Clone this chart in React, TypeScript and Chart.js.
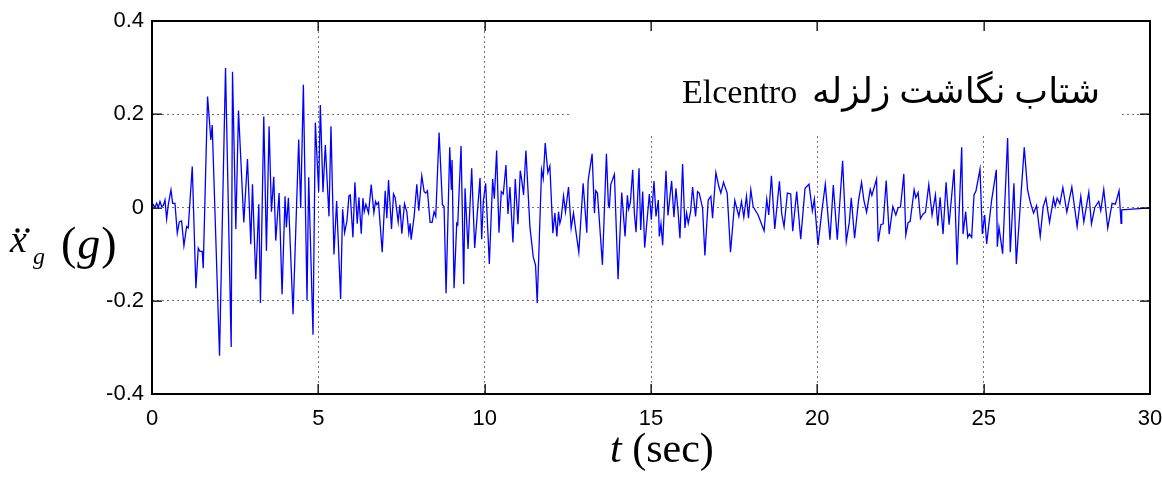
import React, { useEffect, useRef } from 'react';
import { Chart, registerables } from 'chart.js';

Chart.register(...registerables);

// ---- Data (time in s, ground acceleration in g) ----
const accel0to5: [number, number][] = [
  [0, 0], [0.04, 0.006], [0.09, 0], [0.14, 0.009], [0.19, 0], [0.24, 0.013], [0.29, 0.002], [0.34, 0.004],
  [0.39, 0.016], [0.44, -0.025], [0.49, 0.006], [0.57, 0.038], [0.62, 0.009], [0.69, 0.009], [0.76, -0.055],
  [0.82, -0.031], [0.89, -0.029], [0.96, -0.082], [1.04, -0.041], [1.09, -0.044], [1.21, 0.088], [1.32, -0.173],
  [1.39, -0.087], [1.44, -0.094], [1.51, -0.094], [1.54, -0.13], [1.67, 0.238], [1.77, 0.145], [1.81, 0.177],
  [2.03, -0.318], [2.21, 0.299], [2.38, -0.299], [2.42, 0.291], [2.52, -0.046], [2.6, 0.208], [2.76, -0.032],
  [2.87, 0.104], [2.97, -0.079], [3.02, 0.05], [3.12, -0.154], [3.21, 0.007], [3.26, -0.205], [3.36, 0.195],
  [3.44, -0.093], [3.52, 0.174], [3.59, -0.009], [3.66, 0.066], [3.72, -0.071], [3.82, 0.031], [3.91, -0.186],
  [4.0, 0.024], [4.04, -0.043], [4.1, 0.021], [4.24, -0.229], [4.41, 0.146], [4.47, -0.001], [4.55, 0.263],
  [4.66, -0.199], [4.71, 0.065], [4.84, -0.273], [4.91, 0.182], [5.01, 0.034], [5.06, 0.22], [5.14, 0.033],
  [5.21, 0.134],
];

const accel5to10: [number, number][] = [
  [5.32, -0.019], [5.38, 0.174], [5.47, -0.101], [5.55, 0.014], [5.67, -0.196], [5.73, -0.004], [5.79, -0.054],
  [5.86, -0.029], [5.92, 0.025], [5.96, 0.027], [6.04, -0.064], [6.1, 0.054], [6.17, -0.035], [6.22, 0.022],
  [6.29, -0.056], [6.34, 0.02], [6.38, -0.009], [6.43, 0.007], [6.51, -0.012], [6.59, 0.049], [6.67, -0.011],
  [6.72, 0.013], [6.76, 0.006], [6.81, 0.011], [6.92, -0.096], [7.01, 0.036], [7.06, -0.023], [7.11, 0.059],
  [7.2, -0.046], [7.26, 0.029], [7.31, 0.021], [7.4, -0.031], [7.45, 0.006], [7.51, -0.056], [7.59, 0.008],
  [7.66, -0.009], [7.72, -0.055], [7.76, -0.034], [7.79, -0.069], [7.88, -0.019], [7.96, 0.05], [8.02, -0.007],
  [8.11, 0.068], [8.18, 0.034], [8.23, 0.031], [8.28, 0.036], [8.36, -0.032], [8.42, -0.032], [8.48, -0.009],
  [8.53, -0.019], [8.63, 0.161], [8.73, 0.006], [8.78, 0.002], [8.84, -0.184], [8.95, 0.129], [9.0, 0.038],
  [9.02, 0.102], [9.08, -0.173], [9.16, -0.034], [9.19, -0.037], [9.29, 0.132], [9.37, -0.164], [9.41, 0.041],
  [9.5, -0.089], [9.61, 0.084], [9.7, -0.087], [9.86, 0.063], [9.91, -0.068], [9.96, 0.013], [10.03, 0.052],
  [10.14, -0.121],
];

const accel10to15: [number, number][] = [
  [10.24, 0.061], [10.29, 0.019], [10.36, 0.122], [10.43, -0.054], [10.5, 0.034], [10.56, 0.029], [10.64, 0.091],
  [10.7, -0.014], [10.76, 0.044], [10.85, -0.075], [10.92, 0.061], [11.0, -0.036], [11.07, 0.079], [11.12, 0.056],
  [11.17, 0.027], [11.24, 0.122], [11.36, -0.041], [11.46, -0.106], [11.53, -0.124], [11.58, -0.205],
  [11.71, 0.081], [11.76, 0.062], [11.82, 0.138], [11.9, 0.075], [11.96, 0.089], [12.05, -0.055], [12.11, -0.012],
  [12.17, -0.062], [12.22, -0.009], [12.26, -0.034], [12.3, -0.023], [12.37, 0.025], [12.43, -0.009],
  [12.52, 0.044], [12.6, -0.044], [12.67, -0.012], [12.74, -0.05], [12.83, -0.096], [12.96, 0.052],
  [13.07, -0.054], [13.11, 0.057], [13.23, 0.115], [13.3, -0.012], [13.34, 0.036], [13.39, 0.031],
  [13.54, -0.123], [13.66, 0.115], [13.72, 0.004], [13.75, 0.001], [13.79, 0.049], [13.9, 0.071], [14.01, -0.154],
  [14.12, 0.032], [14.22, -0.062], [14.29, 0.026], [14.33, -0.003], [14.38, 0.011], [14.45, 0.081],
  [14.5, -0.012], [14.55, -0.053], [14.64, 0.084],
];

const accel15to20: [number, number][] = [
  [14.69, -0.048], [14.75, 0.034], [14.81, -0.086], [14.95, 0.029], [15.01, -0.026], [15.09, 0.057],
  [15.15, -0.019], [15.22, 0.016], [15.25, -0.062], [15.3, -0.035], [15.35, -0.081], [15.45, 0.079],
  [15.51, -0.017], [15.62, 0.057], [15.69, -0.021], [15.75, 0.041], [15.81, -0.005], [15.87, -0.066],
  [15.95, 0.093], [16.02, -0.044], [16.07, -0.012], [16.12, -0.034], [16.19, -0.009], [16.25, 0.044],
  [16.34, -0.019], [16.4, 0.034], [16.45, 0.031], [16.55, -0.001], [16.62, -0.103], [16.72, 0.016], [16.8, 0.024],
  [16.85, -0.023], [16.95, 0.075], [17.04, 0.045], [17.1, 0.031], [17.18, 0.054], [17.29, 0.031], [17.39, -0.096],
  [17.52, 0.015], [17.64, -0.019], [17.72, 0.013], [17.79, -0.021], [17.87, 0.024], [17.93, -0.023], [18.0, 0.038],
  [18.07, 0.002], [18.22, -0.016], [18.4, -0.05], [18.48, 0.018], [18.54, -0.016], [18.62, 0.068], [18.72, -0.046],
  [18.86, 0.056], [18.93, -0.014], [19.0, -0.041], [19.1, 0.031], [19.2, 0.029], [19.26, -0.051], [19.38, 0.034],
  [19.5, -0.068], [19.63, 0.041], [19.75, 0.05], [19.85, -0.007], [19.91, 0.018],
];

const accel20to25: [number, number][] = [
  [20.02, -0.081], [20.14, -0.005], [20.24, 0.05], [20.38, -0.069], [20.48, 0.048], [20.6, -0.069], [20.76, 0.1],
  [20.87, -0.073], [20.96, -0.032], [21.02, 0.021], [21.12, -0.066], [21.24, 0.016], [21.33, 0.054], [21.4, 0.015],
  [21.48, -0.01], [21.59, 0.039], [21.64, 0.026], [21.78, 0.061], [21.83, -0.073], [21.91, -0.037], [21.98, -0.035],
  [22.07, 0.058], [22.16, -0.057], [22.27, 0.002], [22.36, -0.016], [22.43, 0], [22.5, 0.001], [22.6, 0.072],
  [22.66, -0.059], [22.73, -0.032], [22.79, -0.03], [22.91, 0.038], [22.96, 0.021], [23.03, 0.032], [23.1, -0.024],
  [23.18, -0.014], [23.25, -0.01], [23.35, 0.049], [23.45, -0.016], [23.55, 0.027], [23.62, -0.039], [23.69, 0.022],
  [23.78, -0.057], [23.87, 0.054], [23.96, -0.037], [24.11, 0.082], [24.2, -0.123], [24.34, 0.129], [24.38, -0.057],
  [24.46, -0.009], [24.52, -0.064], [24.57, -0.057], [24.64, -0.064], [24.71, 0.027], [24.77, 0.036],
  [24.89, 0.082], [24.96, -0.057], [25.03, -0.016], [25.09, -0.078],
];

const accel25to30: [number, number][] = [
  [25.24, 0.016], [25.38, 0.081], [25.41, -0.084], [25.46, -0.042], [25.57, -0.099], [25.72, 0.149],
  [25.8, -0.096], [25.91, 0.052], [25.98, -0.121], [26.22, 0.129], [26.32, 0.038], [26.41, 0.009], [26.5, -0.012],
  [26.59, 0.004], [26.7, -0.062], [26.79, 0.002], [26.87, 0.02], [26.98, -0.032], [27.1, 0.02], [27.15, 0.002],
  [27.21, 0.02], [27.29, 0.008], [27.38, 0.043], [27.5, -0.01], [27.65, 0.044], [27.81, -0.041], [27.92, 0.024],
  [28.01, -0.031], [28.16, 0.033], [28.24, -0.035], [28.34, 0], [28.46, 0.013], [28.52, -0.007], [28.61, 0.039],
  [28.73, -0.044], [28.86, 0.009], [28.96, 0.007], [29.07, 0.036], [29.13, -0.034], [29.15, -0.005], [30, -0.001],
];

const xTicks = [0, 5, 10, 15, 20, 25, 30];
const xTickLabels = ['0', '5', '10', '15', '20', '25', '30'];
const yTicks = [-0.4, -0.2, 0, 0.2, 0.4];
const yTickLabels = ['-0.4', '-0.2', '0', '0.2', '0.4'];

const titleLatin = 'Elcentro';
const titlePersian = 'شتاب نگاشت زلزله';
const xLabelVar = 't';
const xLabelUnit = ' (sec)';
const yLabelVar = 'x';
const yLabelSub = 'g';
const yLabelUnit = '(g)';

const SERIF = '"Liberation Serif", "Times New Roman", serif';

const overlayPlugin = {
  id: 'matlabOverlay',
  beforeDatasetsDraw(chart: any) {
    const { ctx, chartArea } = chart;
    const xs = chart.scales.x;
    const ys = chart.scales.y;
    // white legend/title box that hides the grid behind it
    const left = xs.getPixelForValue(12.62);
    const right = xs.getPixelForValue(29.13);
    const bottom = ys.getPixelForValue(0.16);
    ctx.save();
    ctx.fillStyle = '#ffffff';
    ctx.fillRect(left, chartArea.top, right - left, bottom - chartArea.top);
    ctx.restore();
  },
  afterDraw(chart: any) {
    const { ctx, chartArea } = chart;
    const xs = chart.scales.x;
    const ys = chart.scales.y;
    const L = Math.round(chartArea.left);
    const R = Math.round(chartArea.right);
    const T = Math.round(chartArea.top);
    const B = Math.round(chartArea.bottom);
    ctx.save();
    ctx.globalAlpha = 1;
    ctx.globalCompositeOperation = 'source-over';
    ctx.fillStyle = '#000000';
    // axes box (drawn with filled rectangles)
    const bw = 2;
    ctx.fillRect(L - 1, T - 1, R - L + 2, bw);
    ctx.fillRect(L - 1, B - 1, R - L + 2, bw);
    ctx.fillRect(L - 1, T - 1, bw, B - T + 2);
    ctx.fillRect(R - 1, T - 1, bw, B - T + 2);
    // inward ticks
    const tl = 10;
    xTicks.forEach((v) => {
      const px = Math.round(xs.getPixelForValue(v));
      ctx.fillRect(px - 0.5, B - tl, 1.3, tl);
      ctx.fillRect(px - 0.5, T, 1.3, tl);
    });
    yTicks.forEach((v) => {
      const py = Math.round(ys.getPixelForValue(v));
      ctx.fillRect(L, py - 0.5, tl, 1.3);
      ctx.fillRect(R - tl, py - 0.5, tl, 1.3);
    });

    // title text
    ctx.textBaseline = 'alphabetic';
    ctx.font = `34px ${SERIF}`;
    ctx.textAlign = 'left';
    ctx.fillText(titleLatin, 682, 103);
    ctx.save();
    (ctx as any).direction = 'rtl';
    ctx.textAlign = 'right';
    let fs = 34;
    ctx.font = `${fs}px ${SERIF}, "DejaVu Sans"`;
    const w = ctx.measureText(titlePersian).width;
    if (w > 0) {
      fs = Math.max(26, Math.min(40, fs * (288 / w)));
      ctx.font = `${fs}px ${SERIF}, "DejaVu Sans"`;
    }
    ctx.fillText(titlePersian, 1100, 103);
    ctx.restore();

    // x-axis label: t (sec)
    ctx.fillStyle = '#000000';
    ctx.textAlign = 'left';
    ctx.font = `italic 42px ${SERIF}`;
    const tX = 610;
    ctx.fillText(xLabelVar, tX, 462);
    const tw = ctx.measureText(xLabelVar).width;
    ctx.font = `42px ${SERIF}`;
    ctx.fillText(xLabelUnit, tX + tw, 462);

    // y-axis label: x-double-dot_g (g)
    ctx.font = `italic 38px ${SERIF}`;
    ctx.fillText(yLabelVar, 10, 252);
    ctx.beginPath();
    ctx.arc(17.5, 230.5, 2.2, 0, Math.PI * 2);
    ctx.moveTo(29.7, 230.5);
    ctx.arc(27.5, 230.5, 2.2, 0, Math.PI * 2);
    ctx.fill();
    ctx.font = `italic 24px ${SERIF}`;
    ctx.fillText(yLabelSub, 33, 264);
    ctx.font = `46px ${SERIF}`;
    const parenW = ctx.measureText('(').width;
    ctx.fillText('(', 61, 259);
    ctx.font = `italic 46px ${SERIF}`;
    const gW = ctx.measureText('g').width;
    ctx.fillText(yLabelUnit.slice(1, 2), 61 + parenW + 1, 259);
    ctx.font = `46px ${SERIF}`;
    ctx.fillText(')', 61 + parenW + gW + 2, 259);
    ctx.restore();
  },
};

export default function App() {
  const canvasRef = useRef<HTMLCanvasElement | null>(null);

  useEffect(() => {
    if (!canvasRef.current) return;
    const points = [
      ...accel0to5,
      ...accel5to10,
      ...accel10to15,
      ...accel15to20,
      ...accel20to25,
      ...accel25to30,
    ].map(([t, a]) => ({ x: t, y: a }));

    const chart = new Chart(canvasRef.current, {
      type: 'line',
      data: {
        datasets: [
          {
            data: points,
            borderColor: '#0000ff',
            borderWidth: 1.3,
            pointRadius: 0,
            tension: 0,
            fill: false,
          },
        ],
      },
      options: {
        animation: false,
        responsive: true,
        maintainAspectRatio: false,
        layout: { padding: { left: 0, top: 21, right: 12, bottom: 0 } },
        plugins: {
          legend: { display: false },
          tooltip: { enabled: false },
          title: { display: false },
        },
        scales: {
          x: {
            type: 'linear',
            min: 0,
            max: 30,
            afterBuildTicks: (scale: any) => {
              scale.ticks = xTicks.map((v) => ({ value: v }));
            },
            afterFit: (scale: any) => {
              scale.height = 83;
              scale.paddingLeft = 0;
              scale.paddingRight = 0;
            },
            ticks: {
              color: '#000',
              font: { family: '"Liberation Sans", Arial, sans-serif', size: 22 },
              padding: 12,
              maxRotation: 0,
              callback: (_v: any, i: number) => xTickLabels[i],
            },
            grid: { color: 'rgba(0,0,0,0.55)', lineWidth: 1, drawTicks: false },
            border: { display: false, dash: [2, 3] },
          },
          y: {
            type: 'linear',
            min: -0.4,
            max: 0.4,
            afterBuildTicks: (scale: any) => {
              scale.ticks = yTicks.map((v) => ({ value: v }));
            },
            afterFit: (scale: any) => {
              scale.width = 152;
              scale.paddingTop = 0;
              scale.paddingBottom = 0;
            },
            ticks: {
              color: '#000',
              font: { family: '"Liberation Sans", Arial, sans-serif', size: 22 },
              padding: 8,
              callback: (_v: any, i: number) => yTickLabels[i],
            },
            grid: { color: 'rgba(0,0,0,0.55)', lineWidth: 1, drawTicks: false },
            border: { display: false, dash: [2, 3] },
          },
        },
      },
      plugins: [overlayPlugin],
    });
    return () => chart.destroy();
  }, []);

  return (
    <div style={{ position: 'fixed', left: 0, top: 0, width: 1162, height: 477, background: '#fff' }}>
      <canvas ref={canvasRef} />
    </div>
  );
}
